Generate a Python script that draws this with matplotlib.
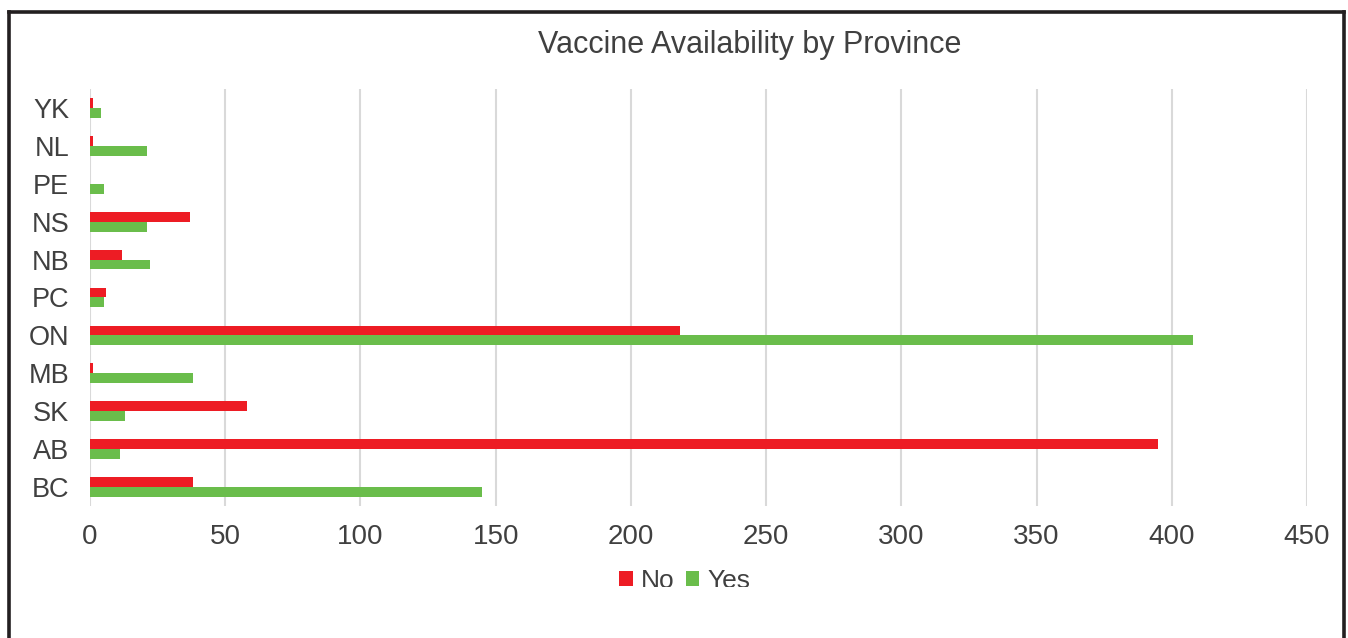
import matplotlib
matplotlib.use("Agg")
import matplotlib.pyplot as plt
from matplotlib.lines import Line2D
from matplotlib.patches import Patch, Rectangle
import numpy as np

plt.rcParams['font.family'] = ['Liberation Sans', 'DejaVu Sans']

provinces = ["BC", "AB", "SK", "MB", "ON", "PC", "NB", "NS", "PE", "NL", "YK"]
no_counts = [38, 395, 58, 1, 218, 6, 12, 37, 0, 1, 1]
yes_counts = [145, 11, 13, 38, 408, 5, 22, 21, 5, 21, 4]
x_ticks = [0, 50, 100, 150, 200, 250, 300, 350, 400, 450]

RED = "#ED1C24"
GREEN = "#6ABD4B"
TEXT = "#404040"
GRID = "#D9D9D9"

fig = plt.figure(figsize=(13.48, 6.38), dpi=100)
ax = fig.add_axes([0.0668, 0.2069, 0.9028, 0.6536])

y = np.arange(len(provinces))
h = 0.26
ax.barh(y + h / 2, no_counts, height=h, color=RED, label="No", zorder=3)
ax.barh(y - h / 2, yes_counts, height=h, color=GREEN, label="Yes", zorder=3)

ax.set_xlim(0, 450)
ax.set_ylim(-0.5, len(provinces) - 0.5)
ax.set_xticks(x_ticks)
ax.set_xticklabels([str(t) for t in x_ticks])
ax.set_yticks(y)
ax.set_yticklabels(provinces)
ax.tick_params(axis="x", length=0, pad=13, labelsize=20, labelcolor=TEXT)
ax.tick_params(axis="y", length=0, pad=15, labelsize=19.5, labelcolor=TEXT)
ax.grid(axis="x", color=GRID, linewidth=1.5, zorder=0)
ax.grid(axis="y", visible=False)
for s in ax.spines.values():
    s.set_visible(False)

fig.text(0.556, 0.929, "Vaccine Availability by Province", ha="center",
         va="center", fontsize=22, color=TEXT)

handles = [Patch(facecolor=RED, edgecolor="none", label="No"),
           Patch(facecolor=GREEN, edgecolor="none", label="Yes")]
leg = fig.legend(handles=handles, loc="center", bbox_to_anchor=(0.508, 0.090),
                 ncol=2, frameon=False, fontsize=19, handlelength=0.5,
                 handleheight=0.5, handletextpad=0.3, columnspacing=0.45,
                 labelcolor=TEXT)
leg.set_zorder(5)

# the chart frame is cut just below the legend row
fig.add_artist(Rectangle((0.015, 0.0), 0.97, 1 - 587 / 638,
                         transform=fig.transFigure, facecolor="white",
                         edgecolor="none", zorder=10))

# outer frame: left, top and right edges
W, H = 1348, 638
frame_kw = dict(transform=fig.transFigure, color="#231F20", linewidth=2.6,
                solid_capstyle="projecting", zorder=11)
fig.add_artist(Line2D([9 / W, 9 / W], [0, 1 - 12 / H], **frame_kw))
fig.add_artist(Line2D([9 / W, 1344 / W], [1 - 12 / H, 1 - 12 / H], **frame_kw))
fig.add_artist(Line2D([1344 / W, 1344 / W], [0, 1 - 12 / H], **frame_kw))

fig.savefig("out.png", dpi=100, facecolor="white")
